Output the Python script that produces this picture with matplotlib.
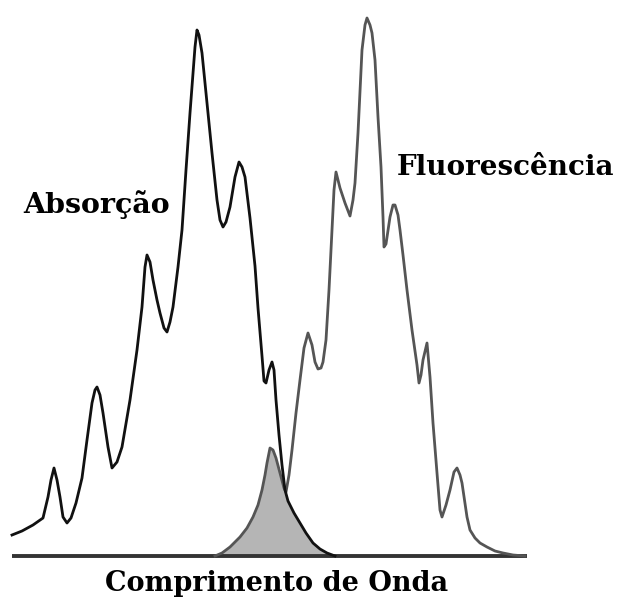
import numpy as np
import matplotlib
matplotlib.use('Agg')
import matplotlib.pyplot as plt

# absorption spectrum (wavelength and intensity, arbitrary units)
abs_x = [12, 22, 33, 43, 48, 51, 54, 57, 60, 63, 67, 71, 76, 82, 87, 92, 95, 97, 100, 103,
         108, 112, 117, 122, 130, 137, 142, 145, 147, 150, 153, 157, 160, 164, 167, 170, 173,
         178, 182, 186, 190, 195, 197, 199, 202, 207, 212, 217, 220, 223, 226, 230, 235, 239,
         242, 245, 250, 255, 258, 262, 264, 266, 269, 272, 274, 276, 279, 282, 285, 288, 294,
         300, 306, 313, 320, 327, 335]
abs_y = [21, 25, 31, 38, 59, 76, 88, 76, 59, 39, 33, 38, 53, 78, 116, 153, 166, 169, 161, 143,
         109, 88, 94, 109, 156, 206, 249, 289, 301, 294, 276, 256, 243, 228, 224, 234, 249,
         289, 326, 386, 443, 509, 526, 521, 503, 453, 403, 356, 336, 329, 334, 349, 379, 394,
         389, 379, 338, 290, 248, 200, 175, 173, 186, 194, 186, 156, 121, 91, 66, 55, 43,
         33, 23, 13, 7, 3, 0]

# fluorescence spectrum
flu_x = [215, 222, 230, 240, 247, 253, 258, 262, 265, 267, 270, 273, 276, 280, 284, 286, 289,
         292, 296, 300, 304, 308, 312, 315, 318, 321, 323, 326, 329, 332, 334, 336, 340, 345,
         350, 353, 355, 358, 362, 365, 367, 370, 372, 375, 378, 381, 383, 384, 386, 390, 393,
         395, 398, 400, 403, 407, 412, 417, 419, 421, 423, 427, 430, 433, 437, 440, 442, 446,
         450, 454, 457, 460, 462, 467, 470, 475, 480, 487, 495, 503, 513, 525]
flu_y = [0, 3, 9, 19, 28, 39, 51, 66, 81, 93, 108, 106, 98, 83, 68, 64, 81,
         106, 143, 176, 208, 223, 211, 194, 187, 188, 194, 216, 266, 326, 366, 384, 368, 353,
         340, 356, 373, 423, 506, 531, 538, 531, 523, 496, 439, 389, 339, 309, 312, 339, 351,
         351, 341, 326, 301, 266, 226, 191, 173, 181, 196, 213, 179, 133, 83, 46, 39, 51,
         66, 84, 88, 81, 73, 39, 26, 18, 13, 9, 5, 3, 1, 0]

labels = ['Absorção', 'Fluorescência', 'Comprimento de Onda']

fig = plt.figure(figsize=(6.19, 6.01), dpi=100)
ax = fig.add_axes([0, 0, 1, 1])
ax.set_xlim(0, 619)
ax.set_ylim(-45, 556)
ax.axis('off')

# overlap of the two bands
xs = np.arange(flu_x[0], abs_x[-1] + 1)
ov = np.minimum(np.interp(xs, abs_x, abs_y), np.interp(xs, flu_x, flu_y))
ax.fill_between(xs, 0, ov, color='#b5b5b5', lw=0, zorder=1)

ax.plot([12, 527], [0, 0], color='#333333', lw=2.8, solid_capstyle='butt', zorder=2)
ax.plot(flu_x, flu_y, color='#555555', lw=2.0, zorder=3)
ax.plot(abs_x, abs_y, color='#111111', lw=2.0, zorder=4)

font = dict(family='DejaVu Serif', weight='bold', color='black', va='baseline', ha='center')
ax.text(97, 343, labels[0], fontsize=20.5, **font)
ax.text(506, 381, labels[1], fontsize=20, **font)
ax.text(277, -35, labels[2], fontsize=19.5, **font)

fig.savefig('out.png', dpi=100)
